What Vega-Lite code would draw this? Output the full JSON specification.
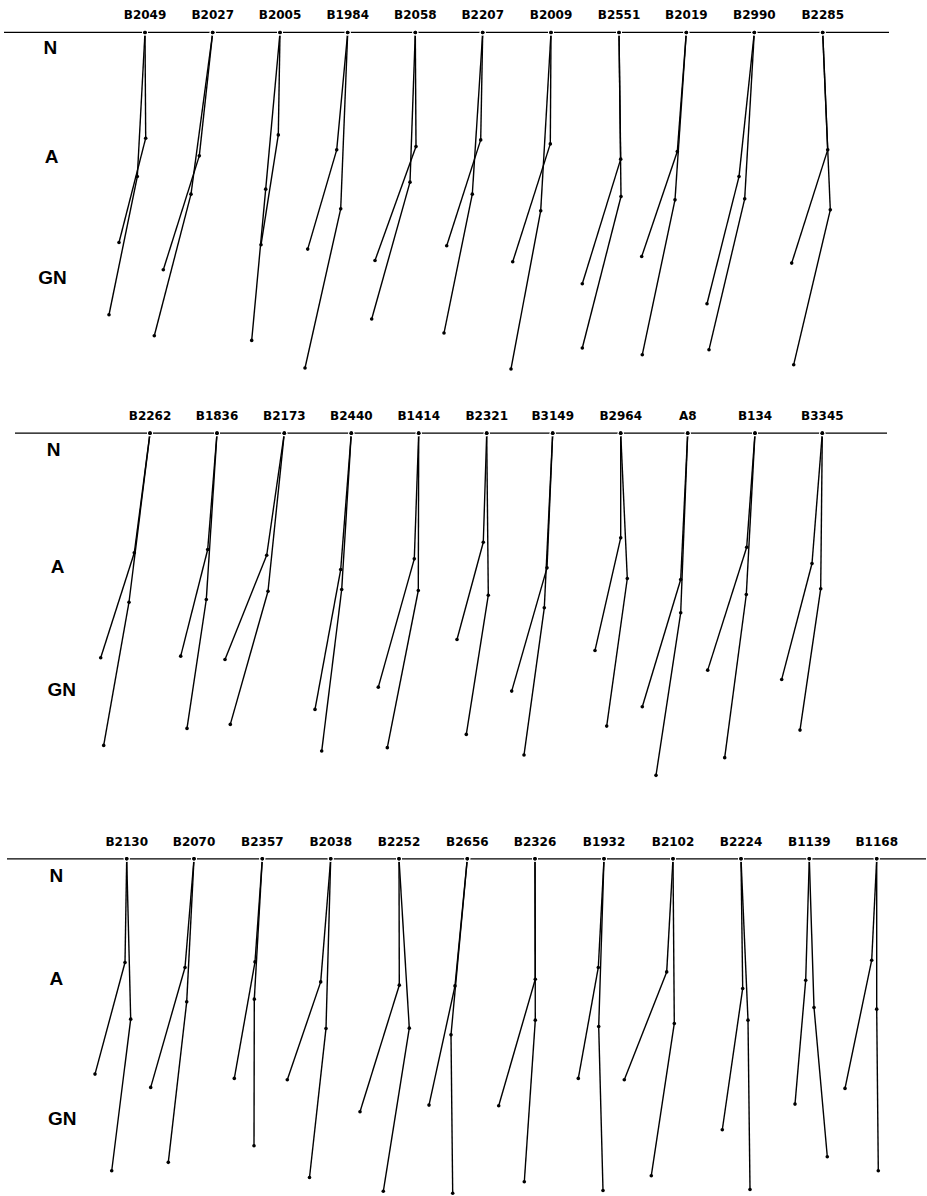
{
  "$schema": "https://vega.github.io/schema/vega-lite/v6.json",
  "width": 927,
  "height": 1196,
  "autosize": {"type": "fit", "contains": "padding"},
  "padding": 0,
  "background": "white",
  "config": {"view": {"stroke": null}},
  "datasets": {
    "faces": [
      {"row": 1, "id": "B2049", "series": 1, "nx": 145, "ny": 32.5, "ax": 145.7, "ay": 138.3, "gx": 119, "gy": 242.7},
      {"row": 1, "id": "B2049", "series": 2, "nx": 145, "ny": 32.5, "ax": 137.3, "ay": 176.7, "gx": 109, "gy": 315},
      {"row": 1, "id": "B2027", "series": 1, "nx": 212.7, "ny": 32.5, "ax": 199.3, "ay": 156, "gx": 163.3, "gy": 270},
      {"row": 1, "id": "B2027", "series": 2, "nx": 212.7, "ny": 32.5, "ax": 191, "ay": 194.3, "gx": 154.3, "gy": 336},
      {"row": 1, "id": "B2005", "series": 1, "nx": 280, "ny": 32.5, "ax": 278.3, "ay": 135, "gx": 261, "gy": 245},
      {"row": 1, "id": "B2005", "series": 2, "nx": 280, "ny": 32.5, "ax": 265.7, "ay": 189.3, "gx": 251.7, "gy": 340.7},
      {"row": 1, "id": "B1984", "series": 1, "nx": 347.7, "ny": 32.5, "ax": 336.7, "ay": 150, "gx": 307.7, "gy": 249.3},
      {"row": 1, "id": "B1984", "series": 2, "nx": 347.7, "ny": 32.5, "ax": 340.7, "ay": 209, "gx": 305, "gy": 368.3},
      {"row": 1, "id": "B2058", "series": 1, "nx": 415.3, "ny": 32.5, "ax": 416, "ay": 146.7, "gx": 375, "gy": 260.7},
      {"row": 1, "id": "B2058", "series": 2, "nx": 415.3, "ny": 32.5, "ax": 410, "ay": 182.3, "gx": 371.7, "gy": 319.3},
      {"row": 1, "id": "B2207", "series": 1, "nx": 482.7, "ny": 32.5, "ax": 480.7, "ay": 140, "gx": 446.7, "gy": 246},
      {"row": 1, "id": "B2207", "series": 2, "nx": 482.7, "ny": 32.5, "ax": 472.3, "ay": 194.3, "gx": 444, "gy": 333.3},
      {"row": 1, "id": "B2009", "series": 1, "nx": 551, "ny": 32.5, "ax": 550.3, "ay": 144, "gx": 512.7, "gy": 262},
      {"row": 1, "id": "B2009", "series": 2, "nx": 551, "ny": 32.5, "ax": 540.7, "ay": 211, "gx": 511, "gy": 369.3},
      {"row": 1, "id": "B2551", "series": 1, "nx": 619, "ny": 32.5, "ax": 620.7, "ay": 159.3, "gx": 582.3, "gy": 284},
      {"row": 1, "id": "B2551", "series": 2, "nx": 619, "ny": 32.5, "ax": 621, "ay": 196.7, "gx": 582.3, "gy": 348.3},
      {"row": 1, "id": "B2019", "series": 1, "nx": 686.3, "ny": 32.5, "ax": 677.3, "ay": 151.7, "gx": 641.7, "gy": 256.7},
      {"row": 1, "id": "B2019", "series": 2, "nx": 686.3, "ny": 32.5, "ax": 675, "ay": 200, "gx": 642.3, "gy": 355},
      {"row": 1, "id": "B2990", "series": 1, "nx": 754.3, "ny": 32.5, "ax": 739, "ay": 176.7, "gx": 707, "gy": 304},
      {"row": 1, "id": "B2990", "series": 2, "nx": 754.3, "ny": 32.5, "ax": 744.7, "ay": 199, "gx": 709, "gy": 350},
      {"row": 1, "id": "B2285", "series": 1, "nx": 822.7, "ny": 32.5, "ax": 827.7, "ay": 150, "gx": 791.7, "gy": 263.3},
      {"row": 1, "id": "B2285", "series": 2, "nx": 822.7, "ny": 32.5, "ax": 830.3, "ay": 210, "gx": 793.7, "gy": 365},

      {"row": 2, "id": "B2262", "series": 1, "nx": 150, "ny": 433.5, "ax": 134.3, "ay": 553.3, "gx": 100.7, "gy": 658.3},
      {"row": 2, "id": "B2262", "series": 2, "nx": 150, "ny": 433.5, "ax": 129, "ay": 602.7, "gx": 103.7, "gy": 746},
      {"row": 2, "id": "B1836", "series": 1, "nx": 217, "ny": 433.5, "ax": 207.7, "ay": 550, "gx": 180.7, "gy": 656.7},
      {"row": 2, "id": "B1836", "series": 2, "nx": 217, "ny": 433.5, "ax": 206.3, "ay": 600, "gx": 187, "gy": 729},
      {"row": 2, "id": "B2173", "series": 1, "nx": 284.3, "ny": 433.5, "ax": 266.7, "ay": 555.7, "gx": 225, "gy": 660},
      {"row": 2, "id": "B2173", "series": 2, "nx": 284.3, "ny": 433.5, "ax": 268, "ay": 591.7, "gx": 230.3, "gy": 725},
      {"row": 2, "id": "B2440", "series": 1, "nx": 351.3, "ny": 433.5, "ax": 340.7, "ay": 570, "gx": 315, "gy": 710},
      {"row": 2, "id": "B2440", "series": 2, "nx": 351.3, "ny": 433.5, "ax": 341.7, "ay": 590, "gx": 321.7, "gy": 751.7},
      {"row": 2, "id": "B1414", "series": 1, "nx": 418.7, "ny": 433.5, "ax": 414.3, "ay": 559.3, "gx": 378.3, "gy": 687.7},
      {"row": 2, "id": "B1414", "series": 2, "nx": 418.7, "ny": 433.5, "ax": 418.3, "ay": 591, "gx": 387.3, "gy": 748.3},
      {"row": 2, "id": "B2321", "series": 1, "nx": 486.7, "ny": 433.5, "ax": 483.3, "ay": 542.7, "gx": 457, "gy": 640},
      {"row": 2, "id": "B2321", "series": 2, "nx": 486.7, "ny": 433.5, "ax": 488.3, "ay": 595.7, "gx": 466.3, "gy": 735},
      {"row": 2, "id": "B3149", "series": 1, "nx": 552.7, "ny": 433.5, "ax": 547, "ay": 568.3, "gx": 511.7, "gy": 691.7},
      {"row": 2, "id": "B3149", "series": 2, "nx": 552.7, "ny": 433.5, "ax": 544.3, "ay": 608.3, "gx": 524, "gy": 755.7},
      {"row": 2, "id": "B2964", "series": 1, "nx": 620.7, "ny": 433.5, "ax": 620.7, "ay": 538.3, "gx": 595, "gy": 651},
      {"row": 2, "id": "B2964", "series": 2, "nx": 620.7, "ny": 433.5, "ax": 627.3, "ay": 579, "gx": 606.7, "gy": 726.7},
      {"row": 2, "id": "A8", "series": 1, "nx": 687.7, "ny": 433.5, "ax": 680.7, "ay": 580, "gx": 642.3, "gy": 707.3},
      {"row": 2, "id": "A8", "series": 2, "nx": 687.7, "ny": 433.5, "ax": 680.7, "ay": 613.3, "gx": 656, "gy": 776},
      {"row": 2, "id": "B134", "series": 1, "nx": 755, "ny": 433.5, "ax": 746.7, "ay": 547.7, "gx": 707.7, "gy": 670.7},
      {"row": 2, "id": "B134", "series": 2, "nx": 755, "ny": 433.5, "ax": 746.3, "ay": 595, "gx": 724.7, "gy": 758.3},
      {"row": 2, "id": "B3345", "series": 1, "nx": 822.3, "ny": 433.5, "ax": 812, "ay": 564, "gx": 781.7, "gy": 680},
      {"row": 2, "id": "B3345", "series": 2, "nx": 822.3, "ny": 433.5, "ax": 820.7, "ay": 589.3, "gx": 800, "gy": 730.7},

      {"row": 3, "id": "B2130", "series": 1, "nx": 126.7, "ny": 859.5, "ax": 125, "ay": 963.3, "gx": 95, "gy": 1075},
      {"row": 3, "id": "B2130", "series": 2, "nx": 126.7, "ny": 859.5, "ax": 130.7, "ay": 1020, "gx": 111.7, "gy": 1171.7},
      {"row": 3, "id": "B2070", "series": 1, "nx": 194, "ny": 859.5, "ax": 185, "ay": 968.3, "gx": 150.7, "gy": 1088.3},
      {"row": 3, "id": "B2070", "series": 2, "nx": 194, "ny": 859.5, "ax": 186.7, "ay": 1002.7, "gx": 168.3, "gy": 1163.3},
      {"row": 3, "id": "B2357", "series": 1, "nx": 262.3, "ny": 859.5, "ax": 255, "ay": 962.7, "gx": 234.3, "gy": 1079.3},
      {"row": 3, "id": "B2357", "series": 2, "nx": 262.3, "ny": 859.5, "ax": 254.3, "ay": 1000, "gx": 254, "gy": 1146.7},
      {"row": 3, "id": "B2038", "series": 1, "nx": 330.7, "ny": 859.5, "ax": 320.7, "ay": 982.7, "gx": 287.3, "gy": 1080.7},
      {"row": 3, "id": "B2038", "series": 2, "nx": 330.7, "ny": 859.5, "ax": 326, "ay": 1029.3, "gx": 309.5, "gy": 1178.5},
      {"row": 3, "id": "B2252", "series": 1, "nx": 399, "ny": 859.5, "ax": 399.3, "ay": 986, "gx": 360, "gy": 1112.7},
      {"row": 3, "id": "B2252", "series": 2, "nx": 399, "ny": 859.5, "ax": 409.3, "ay": 1029, "gx": 383.3, "gy": 1192.3},
      {"row": 3, "id": "B2656", "series": 1, "nx": 467.3, "ny": 859.5, "ax": 455, "ay": 986.7, "gx": 429, "gy": 1106},
      {"row": 3, "id": "B2656", "series": 2, "nx": 467.3, "ny": 859.5, "ax": 451, "ay": 1035.7, "gx": 452.7, "gy": 1194.3},
      {"row": 3, "id": "B2326", "series": 1, "nx": 535, "ny": 859.5, "ax": 535.3, "ay": 980, "gx": 498.7, "gy": 1106.7},
      {"row": 3, "id": "B2326", "series": 2, "nx": 535, "ny": 859.5, "ax": 535.3, "ay": 1021, "gx": 524.3, "gy": 1182.7},
      {"row": 3, "id": "B1932", "series": 1, "nx": 604, "ny": 859.5, "ax": 598.3, "ay": 968.3, "gx": 578.3, "gy": 1079.3},
      {"row": 3, "id": "B1932", "series": 2, "nx": 604, "ny": 859.5, "ax": 598.7, "ay": 1027.3, "gx": 603, "gy": 1191.5},
      {"row": 3, "id": "B2102", "series": 1, "nx": 673, "ny": 859.5, "ax": 666.7, "ay": 972.7, "gx": 624.3, "gy": 1080.7},
      {"row": 3, "id": "B2102", "series": 2, "nx": 673, "ny": 859.5, "ax": 674.3, "ay": 1024.3, "gx": 651.3, "gy": 1176.7},
      {"row": 3, "id": "B2224", "series": 1, "nx": 741, "ny": 859.5, "ax": 742.7, "ay": 989.3, "gx": 722.3, "gy": 1130.7},
      {"row": 3, "id": "B2224", "series": 2, "nx": 741, "ny": 859.5, "ax": 748, "ay": 1021, "gx": 750, "gy": 1190.5},
      {"row": 3, "id": "B1139", "series": 1, "nx": 809.3, "ny": 859.5, "ax": 805.7, "ay": 981, "gx": 795, "gy": 1105},
      {"row": 3, "id": "B1139", "series": 2, "nx": 809.3, "ny": 859.5, "ax": 814, "ay": 1008.3, "gx": 827.3, "gy": 1157.7},
      {"row": 3, "id": "B1168", "series": 1, "nx": 876.7, "ny": 859.5, "ax": 871.7, "ay": 961, "gx": 845, "gy": 1089.3},
      {"row": 3, "id": "B1168", "series": 2, "nx": 876.7, "ny": 859.5, "ax": 876.7, "ay": 1010, "gx": 878.3, "gy": 1171.7}
    ],
    "baselines": [
      {"row": 1, "x1": 4, "x2": 889, "y": 32.5},
      {"row": 2, "x1": 15, "x2": 887, "y": 433.5},
      {"row": 3, "x1": 7, "x2": 926, "y": 859.5}
    ],
    "rowlabels": [
      {"row": 1, "text": "N", "x": 50.3, "y": 48},
      {"row": 1, "text": "A", "x": 51.5, "y": 157},
      {"row": 1, "text": "GN", "x": 52.5, "y": 278},
      {"row": 2, "text": "N", "x": 53.7, "y": 450},
      {"row": 2, "text": "A", "x": 57.5, "y": 567},
      {"row": 2, "text": "GN", "x": 61.7, "y": 691},
      {"row": 3, "text": "N", "x": 56.3, "y": 877},
      {"row": 3, "text": "A", "x": 56.3, "y": 980},
      {"row": 3, "text": "GN", "x": 62.2, "y": 1120}
    ]
  },
  "layer": [
    {
      "data": {"name": "baselines"},
      "mark": {"type": "rule", "color": "black", "strokeWidth": 1.3},
      "encoding": {
        "x": {"field": "x1", "type": "quantitative", "scale": {"domain": [0, 927], "nice": false, "zero": false}, "axis": null},
        "x2": {"field": "x2"},
        "y": {"field": "y", "type": "quantitative", "scale": {"domain": [0, 1196], "reverse": true, "nice": false, "zero": false}, "axis": null}
      }
    },
    {
      "data": {"name": "faces"},
      "mark": {"type": "rule", "color": "black", "strokeWidth": 1.4},
      "encoding": {
        "x": {"field": "nx", "type": "quantitative", "scale": {"domain": [0, 927], "nice": false, "zero": false}, "axis": null},
        "y": {"field": "ny", "type": "quantitative", "scale": {"domain": [0, 1196], "reverse": true, "nice": false, "zero": false}, "axis": null},
        "x2": {"field": "ax"},
        "y2": {"field": "ay"}
      }
    },
    {
      "data": {"name": "faces"},
      "mark": {"type": "rule", "color": "black", "strokeWidth": 1.4},
      "encoding": {
        "x": {"field": "ax", "type": "quantitative", "scale": {"domain": [0, 927], "nice": false, "zero": false}, "axis": null},
        "y": {"field": "ay", "type": "quantitative", "scale": {"domain": [0, 1196], "reverse": true, "nice": false, "zero": false}, "axis": null},
        "x2": {"field": "gx"},
        "y2": {"field": "gy"}
      }
    },
    {
      "data": {"name": "faces"},
      "mark": {"type": "circle", "color": "white", "opacity": 1, "size": 36},
      "encoding": {
        "x": {"field": "nx", "type": "quantitative", "scale": {"domain": [0, 927], "nice": false, "zero": false}, "axis": null},
        "y": {"field": "ny", "type": "quantitative", "scale": {"domain": [0, 1196], "reverse": true, "nice": false, "zero": false}, "axis": null}
      }
    },
    {
      "data": {"name": "faces"},
      "mark": {"type": "circle", "color": "black", "opacity": 1, "size": 13},
      "encoding": {
        "x": {"field": "nx", "type": "quantitative", "scale": {"domain": [0, 927], "nice": false, "zero": false}, "axis": null},
        "y": {"field": "ny", "type": "quantitative", "scale": {"domain": [0, 1196], "reverse": true, "nice": false, "zero": false}, "axis": null}
      }
    },
    {
      "data": {"name": "faces"},
      "mark": {"type": "circle", "color": "black", "opacity": 1, "size": 13},
      "encoding": {
        "x": {"field": "ax", "type": "quantitative", "scale": {"domain": [0, 927], "nice": false, "zero": false}, "axis": null},
        "y": {"field": "ay", "type": "quantitative", "scale": {"domain": [0, 1196], "reverse": true, "nice": false, "zero": false}, "axis": null}
      }
    },
    {
      "data": {"name": "faces"},
      "mark": {"type": "circle", "color": "black", "opacity": 1, "size": 13},
      "encoding": {
        "x": {"field": "gx", "type": "quantitative", "scale": {"domain": [0, 927], "nice": false, "zero": false}, "axis": null},
        "y": {"field": "gy", "type": "quantitative", "scale": {"domain": [0, 1196], "reverse": true, "nice": false, "zero": false}, "axis": null}
      }
    },
    {
      "data": {"name": "faces"},
      "transform": [{"filter": "datum.series === 1"}],
      "mark": {"type": "text", "color": "black", "font": "DejaVu Sans", "fontWeight": "bold", "fontSize": 12, "align": "center", "baseline": "middle", "dy": -17},
      "encoding": {
        "x": {"field": "nx", "type": "quantitative", "scale": {"domain": [0, 927], "nice": false, "zero": false}, "axis": null},
        "y": {"field": "ny", "type": "quantitative", "scale": {"domain": [0, 1196], "reverse": true, "nice": false, "zero": false}, "axis": null},
        "text": {"field": "id", "type": "nominal"}
      }
    },
    {
      "data": {"name": "rowlabels"},
      "mark": {"type": "text", "color": "black", "font": "Liberation Sans", "fontWeight": "bold", "fontSize": 19, "align": "center", "baseline": "middle"},
      "encoding": {
        "x": {"field": "x", "type": "quantitative", "scale": {"domain": [0, 927], "nice": false, "zero": false}, "axis": null},
        "y": {"field": "y", "type": "quantitative", "scale": {"domain": [0, 1196], "reverse": true, "nice": false, "zero": false}, "axis": null},
        "text": {"field": "text", "type": "nominal"}
      }
    }
  ]
}
